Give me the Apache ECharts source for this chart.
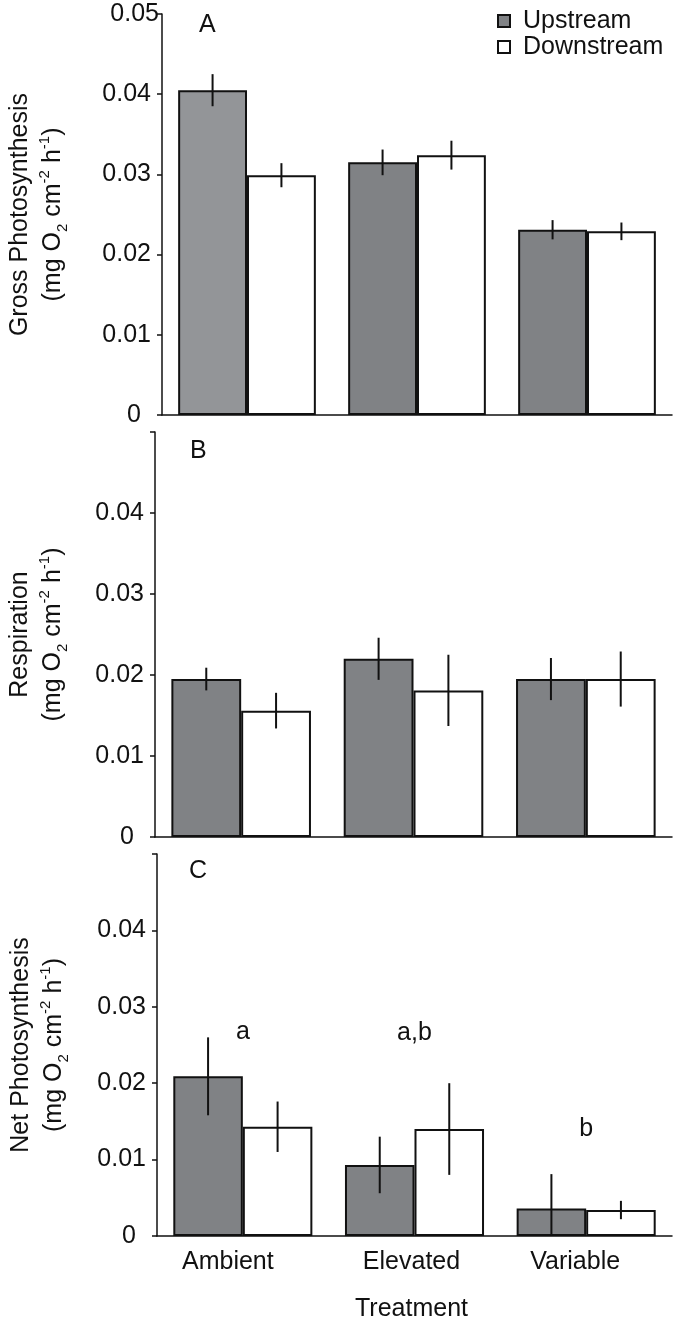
<!DOCTYPE html>
<html>
<head>
<meta charset="utf-8">
<script src="https://cdn.jsdelivr.net/npm/echarts@6/dist/echarts.min.js"></script>
<style>
  html, body { margin: 0; padding: 0; background: #fff; }
  #chart { width: 679px; height: 1325px; }
</style>
</head>
<body>
<div id="chart"></div>
<script>
const categories = ["Ambient", "Elevated", "Variable"];

// panel A - gross photosynthesis
const grossUp = [0.0405, 0.0315, 0.0231];
const grossUpErr = [0.0020, 0.0016, 0.0012];
const grossDown = [0.0299, 0.0324, 0.0229];
const grossDownErr = [0.0015, 0.0018, 0.0011];

// panel B - respiration
const respUp = [0.0195, 0.0220, 0.0195];
const respUpErr = [0.0014, 0.0026, 0.0026];
const respDown = [0.0156, 0.0181, 0.0195];
const respDownErr = [0.0022, 0.0044, 0.0034];

// panel C - net photosynthesis
const netUp = [0.0209, 0.0093, 0.0036];
const netUpErr = [0.0051, 0.0037, 0.0045];
const netDown = [0.0143, 0.0140, 0.0034];
const netDownErr = [0.0033, 0.0060, 0.0012];

const netLetters = ["a", "a,b", "b"];
const netLetterY = [0.0267, 0.0265, 0.0140];

const FONT = "'Liberation Sans', Arial, sans-serif";
const INK = "#111111";
const UP_COLOR = "#808285";
const UP_LIGHT = "#939598";
const BAR_GAP = 0.19;
const FS = 25;

const grids = [
  { left: 158, right: 7, top: 14, height: 401 },
  { left: 155, right: 7, top: 432, height: 405 },
  { left: 157, right: 7, top: 854, height: 382 }
];

const nameRich = {
  m: { fontSize: FS, lineHeight: 33, fontFamily: FONT, color: INK },
  sub: { fontSize: 15, lineHeight: 14, verticalAlign: "bottom", fontFamily: FONT, color: INK },
  sup: { fontSize: 15, lineHeight: 14, verticalAlign: "top", fontFamily: FONT, color: INK }
};
const unitLine = "{m|(mg O}{sub|2}{m| cm}{sup|-2}{m| h}{sup|-1}{m|)}";

function yAxisFor(idx, title, gap, showTop) {
  return {
    type: "value",
    gridIndex: idx,
    min: 0,
    max: 0.05,
    interval: 0.01,
    name: "{m|" + title + "}\n" + unitLine,
    nameLocation: "middle",
    nameGap: gap,
    nameTextStyle: { rich: nameRich },
    splitLine: { show: false },
    axisLine: { show: true, lineStyle: { color: INK, width: 1.5 } },
    axisTick: { show: true, inside: false, length: 5, lineStyle: { color: INK, width: 1.5 } },
    axisLabel: {
      margin: 3,
      formatter: function (v) {
        if (v === 0) return "{z|0}";
        if (Math.abs(v - 0.05) < 1e-9) return showTop ? "{t|0.05}" : "";
        return "{n|" + v.toFixed(2) + "}";
      },
      rich: {
        n: { fontSize: FS, fontFamily: FONT, color: INK, padding: [0, 8, 0, 0] },
        z: { fontSize: FS, fontFamily: FONT, color: INK, padding: [0, 18, 0, 0] },
        t: { fontSize: FS, fontFamily: FONT, color: INK }
      }
    }
  };
}

function xAxisFor(idx, showLabels) {
  const pad = { Ambient: 30, Elevated: 6, Variable: 22 };
  return {
    type: "category",
    gridIndex: idx,
    data: categories,
    axisLine: { show: true, lineStyle: { color: INK, width: 1.5 } },
    axisTick: { show: false },
    axisLabel: showLabels ? {
      margin: 14,
      formatter: function (v) { return "{" + v + "|" + v + "}"; },
      rich: Object.fromEntries(categories.map(c => [c, {
        fontSize: FS, fontFamily: FONT, color: INK, padding: [0, pad[c], 0, 0]
      }]))
    } : { show: false },
    name: showLabels ? "Treatment" : "",
    nameLocation: "middle",
    nameGap: 61,
    nameTextStyle: { fontSize: FS, fontFamily: FONT, color: INK, padding: [0, 6, 0, 0] }
  };
}

function barSeries(name, idx, values, color, firstColor) {
  return {
    name: name,
    type: "bar",
    xAxisIndex: idx,
    yAxisIndex: idx,
    barGap: "0%",
    barCategoryGap: (BAR_GAP * 100) + "%",
    itemStyle: { color: color, borderColor: INK, borderWidth: 2 },
    data: values.map((v, i) => (i === 0 && firstColor)
      ? { value: v, itemStyle: { color: firstColor } }
      : v)
  };
}

function errSeries(idx, values, errs, side) {
  return {
    type: "custom",
    xAxisIndex: idx,
    yAxisIndex: idx,
    z: 5,
    silent: true,
    data: values.map((v, i) => [i, v, errs[i]]),
    renderItem: function (params, api) {
      const x = api.value(0), v = api.value(1), e = api.value(2);
      const band = api.size([1, 0])[0];
      const cx = api.coord([x, v])[0] + side * band * (1 - BAR_GAP) / 4;
      const top = api.coord([x, v + e])[1];
      const bot = api.coord([x, Math.max(0, v - e)])[1];
      return {
        type: "line",
        shape: { x1: cx, y1: top, x2: cx, y2: bot },
        style: { stroke: INK, lineWidth: 2 }
      };
    }
  };
}

const chart = echarts.init(document.getElementById("chart"));

const option = {
  animation: false,
  backgroundColor: "#fff",
  textStyle: { fontFamily: FONT },
  legend: {
    data: ["Upstream", "Downstream"],
    orient: "vertical",
    left: 492,
    top: 3,
    icon: "rect",
    itemWidth: 12,
    itemHeight: 12,
    itemGap: 0,
    textStyle: { fontSize: FS, fontFamily: FONT, color: INK, lineHeight: 26, padding: [0, 0, 0, 8] }
  },
  grid: grids,
  xAxis: [xAxisFor(0, false), xAxisFor(1, false), xAxisFor(2, true)],
  yAxis: [
    yAxisFor(0, "Gross Photosynthesis", 92, true),
    yAxisFor(1, "Respiration", 85, false),
    yAxisFor(2, "Net Photosynthesis", 86, false)
  ],
  graphic: [
    { type: "text", left: 199, top: 13, style: { text: "A", font: FS + "px " + FONT, fill: INK } },
    { type: "text", left: 190, top: 439, style: { text: "B", font: FS + "px " + FONT, fill: INK } },
    { type: "text", left: 189, top: 859, style: { text: "C", font: FS + "px " + FONT, fill: INK } }
  ],
  series: [
    barSeries("Upstream", 0, grossUp, UP_COLOR, UP_LIGHT),
    barSeries("Downstream", 0, grossDown, "#ffffff"),
    errSeries(0, grossUp, grossUpErr, -1),
    errSeries(0, grossDown, grossDownErr, 1),

    barSeries("Upstream", 1, respUp, UP_COLOR),
    barSeries("Downstream", 1, respDown, "#ffffff"),
    errSeries(1, respUp, respUpErr, -1),
    errSeries(1, respDown, respDownErr, 1),

    barSeries("Upstream", 2, netUp, UP_COLOR),
    barSeries("Downstream", 2, netDown, "#ffffff"),
    errSeries(2, netUp, netUpErr, -1),
    errSeries(2, netDown, netDownErr, 1),

    {
      type: "scatter",
      xAxisIndex: 2,
      yAxisIndex: 2,
      symbolSize: 0,
      silent: true,
      itemStyle: { opacity: 1 },
      data: netLetterY.map((v, i) => [i, v, netLetters[i]]),
      label: {
        show: true,
        position: "inside",
        formatter: p => p.data[2],
        fontSize: FS,
        fontFamily: FONT,
        color: INK,
        opacity: 1
      }
    }
  ]
};

chart.setOption(option);
</script>
</body>
</html>
